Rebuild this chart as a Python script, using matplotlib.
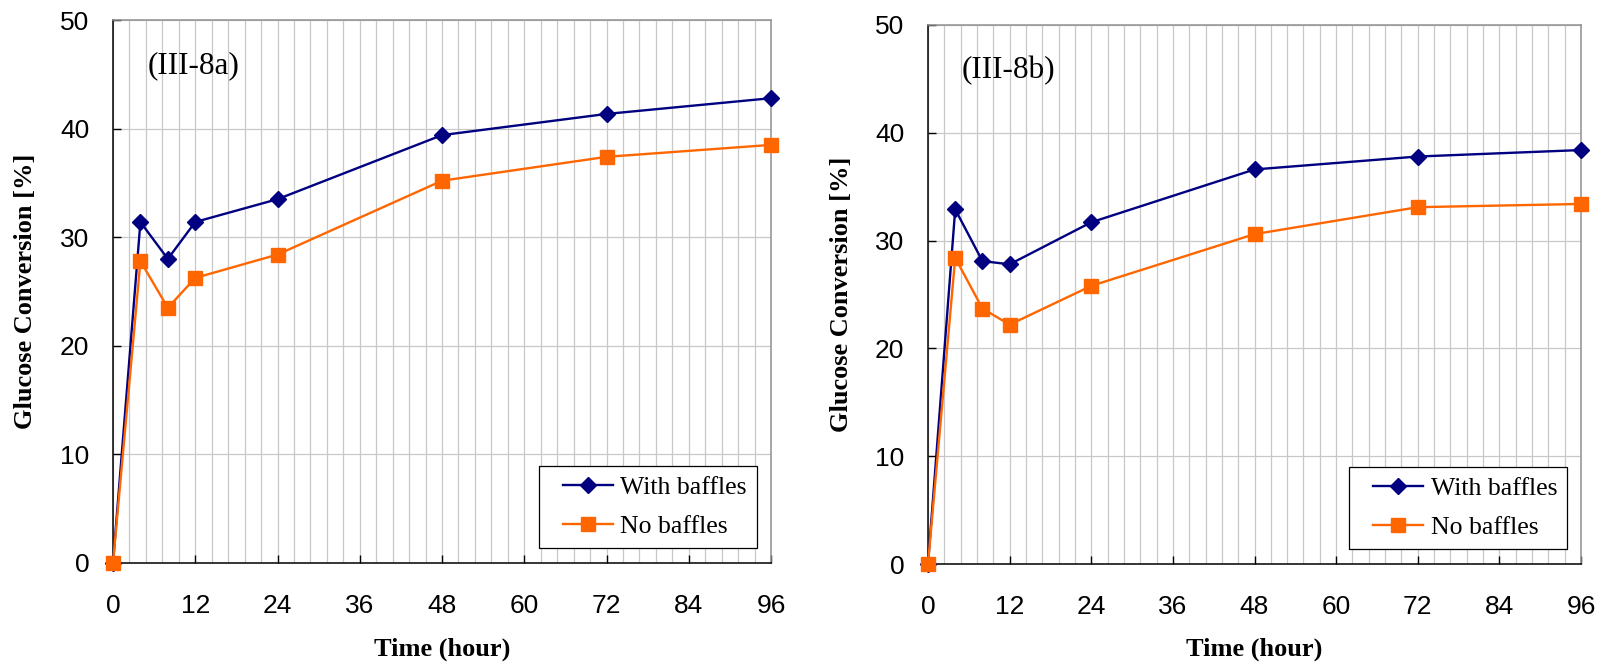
import matplotlib.pyplot as plt
import numpy as np
from matplotlib.lines import Line2D
from matplotlib.legend_handler import HandlerLine2D

# sampling times (hours)
hours = [0, 4, 8, 12, 24, 48, 72, 96]

# glucose conversion [%] for run a
with_baffles_a = [0, 31.4, 28.0, 31.4, 33.5, 39.4, 41.35, 42.8]
no_baffles_a = [0, 27.8, 23.5, 26.25, 28.4, 35.2, 37.4, 38.5]

# glucose conversion [%] for run b
with_baffles_b = [0, 32.9, 28.1, 27.8, 31.7, 36.6, 37.8, 38.4]
no_baffles_b = [0, 28.4, 23.7, 22.2, 25.8, 30.6, 33.1, 33.4]

panel_tags = ["(III-8a)", "(III-8b)"]
series_names = ["With baffles", "No baffles"]
x_ticks = np.arange(0, 97, 12)
y_ticks = np.arange(0, 51, 10)

blue = "#000080"
orange = "#FF6600"
grid_col = "#C8C8C8"

fig = plt.figure(figsize=(16.02, 6.63), dpi=100)
W, H = 1602, 663
axes = [
    fig.add_axes([113 / W, (H - 563) / H, (771 - 113) / W, (563 - 20) / H]),
    fig.add_axes([928 / W, (H - 564) / H, (1581 - 928) / W, (564 - 25) / H]),
]

data = [(with_baffles_a, no_baffles_a), (with_baffles_b, no_baffles_b)]

for ax, (wb, nb), tag in zip(axes, data, panel_tags):
    ax.plot(hours, wb, color=blue, lw=1.7, marker="D", ms=8.5,
            label=series_names[0], clip_on=False, zorder=3)
    ax.plot(hours, nb, color=orange, lw=1.7, marker="s", ms=10.3,
            label=series_names[1], clip_on=False, zorder=4)

    ax.set_xlim(0, 96)
    ax.set_ylim(0, 50)
    ax.set_xticks(x_ticks)
    ax.set_xticks(np.arange(0, 96.01, 2.4), minor=True)
    ax.set_yticks(y_ticks)

    ax.grid(axis="x", which="both", color=grid_col, lw=0.9)
    ax.grid(axis="y", which="major", color=grid_col, lw=0.9)
    ax.set_axisbelow(True)

    ax.tick_params(axis="both", which="major", direction="in", length=5.5,
                   width=1, labelsize=19)
    ax.tick_params(axis="y", pad=17)
    ax.tick_params(axis="x", pad=22)
    ax.tick_params(axis="x", which="minor", length=0)
    for lab in ax.get_xticklabels() + ax.get_yticklabels():
        lab.set_family("Liberation Sans")

    for side in ["left", "bottom"]:
        ax.spines[side].set_color("black")
        ax.spines[side].set_linewidth(1.1)
    for side in ["top", "right"]:
        ax.spines[side].set_color("#909090")
        ax.spines[side].set_linewidth(1.1)

    ax.set_xlabel("Time (hour)", family="Liberation Serif", weight="bold",
                  fontsize=19, va="center")
    ax.xaxis.set_label_coords(0.5, -0.158)
    ax.set_ylabel("Glucose Conversion [%]", family="Liberation Serif",
                  weight="bold", fontsize=19, va="center")
    ax.yaxis.set_label_coords(-0.133, 0.5)

    ax.text(0.052, 0.915, tag, transform=ax.transAxes, family="Liberation Serif",
            fontsize=22.5, ha="left", va="center")

    # extra room left of the legend line, Excel style
    leg = ax.legend(loc="lower right", bbox_to_anchor=(0.979, 0.028),
                    borderaxespad=0, fancybox=False, framealpha=1,
                    edgecolor="black", prop={"family": "Liberation Serif", "size": 18.5},
                    handlelength=2.48, handletextpad=0.3, labelspacing=0.6,
                    borderpad=0.4, handler_map={Line2D: HandlerLine2D(xpad=0.53)})
    leg.get_frame().set_linewidth(0.9)

fig.savefig("out.png", dpi=100)
